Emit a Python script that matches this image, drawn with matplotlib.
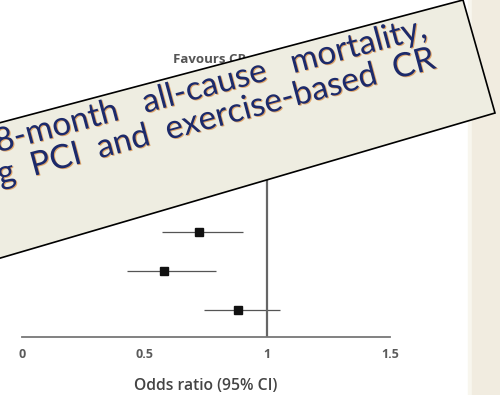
import matplotlib
matplotlib.use('Agg')
import matplotlib.pyplot as plt
import matplotlib.patheffects as pe
from matplotlib.patches import Polygon, Rectangle
import numpy as np

# forest plot rows (top to bottom, only the visible ones)
odds = [0.72, 0.58, 0.88]
ci_low = [0.57, 0.43, 0.74]
ci_high = [0.90, 0.79, 1.05]
xticks = [0, 0.5, 1, 1.5]
xtick_labels = ['0', '0.5', '1', '1.5']
x_label = 'Odds ratio (95% CI)'
header = 'Favours CR'
caption = ['18-month   all-cause   mortality,', 'following  PCI  and  exercise-based  CR']

plt.rcParams['font.family'] = ['Open Sans', 'DejaVu Sans']

fig = plt.figure(figsize=(5, 3.95), dpi=100)
fig.patch.set_facecolor('white')

# beige strip on the right edge, with a soft left edge
fig.add_artist(Rectangle((0.936, 0), 0.01, 1, transform=fig.transFigure,
                         color='#f8f6ee', zorder=0))
fig.add_artist(Rectangle((0.944, 0), 0.056, 1, transform=fig.transFigure,
                         color='#f1ece0', zorder=0))

ax = fig.add_axes([0.044, 0.1468, 0.736, 0.701])
ax.patch.set_alpha(0)
rows = np.arange(len(odds))
ax.hlines(rows, ci_low, ci_high, color='#555555', lw=0.9)
ax.plot(odds, rows, 's', color='#111111', ms=6.3)
ax.axvline(1, color='#666666', lw=1.6)
ax.set_xlim(0, 1.5)
ax.set_ylim(2.692, -4.41)
for side in ['top', 'left', 'right']:
    ax.spines[side].set_visible(False)
ax.spines['bottom'].set_color('#777777')
ax.spines['bottom'].set_linewidth(1.3)
ax.set_yticks([])
ax.set_xticks(xticks)
ax.set_xticklabels(xtick_labels, fontsize=9, color='#5a5a5a', fontweight='bold')
ax.tick_params(axis='x', length=0, pad=8)
ax.set_xlabel(x_label, fontsize=11.3, color='#444444', labelpad=12.5, fontweight='semibold')
ax.text(0.41, 1.004, header, transform=ax.transAxes, fontsize=9.5, color='#555555',
        fontweight='bold', ha='left', va='center', clip_on=False)

# overlay: rotated caption box, in pixel coords
ov = fig.add_axes([0, 0, 1, 1])
ov.set_xlim(0, 500)
ov.set_ylim(395, 0)
ov.axis('off')
ov.patch.set_alpha(0)
ov.add_patch(Polygon([(-20, 128), (463, 0), (495, 113), (-20, 264)], closed=True,
                     facecolor='#eeede1', edgecolor='black', lw=1.2))
fringe = [pe.withSimplePatchShadow(offset=(0.8, -0.6), shadow_rgbFace='#d9893a', alpha=0.7)]
for i, (x0, y0) in enumerate([(429, 37), (437, 68)]):
    ov.text(x0, y0, caption[i], rotation=15, rotation_mode='anchor', ha='right',
            va='baseline', fontsize=24, color='#1c2a6b', family='Lato',
            path_effects=fringe)

fig.savefig('out.png', dpi=100)
